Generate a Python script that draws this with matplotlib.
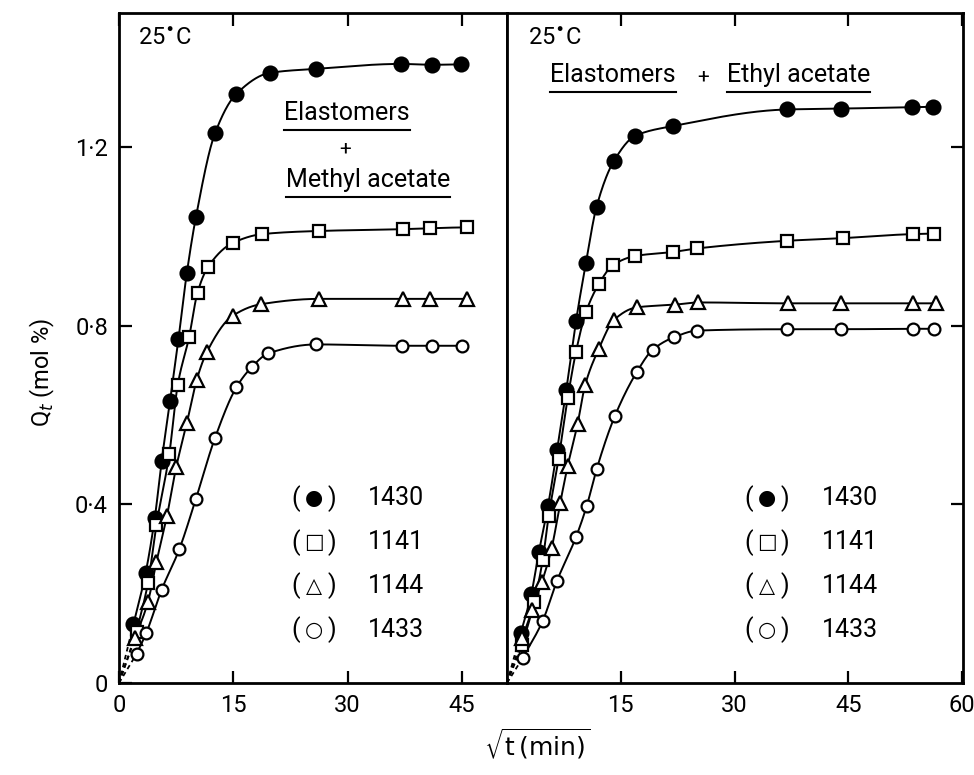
import numpy as np
import matplotlib
matplotlib.use("Agg")
import matplotlib.pyplot as plt
from matplotlib.lines import Line2D

plt.rcParams['font.family'] = ['Roboto', 'DejaVu Sans']
plt.rcParams['mathtext.fontset'] = 'dejavusans'

# ---------------- data ----------------
samples = ['1430', '1141', '1144', '1433']

# Left panel: Elastomers + Methyl acetate
ma_x_1430 = [1.9, 3.5, 4.7, 5.6, 6.7, 7.8, 8.9, 10.1, 12.6, 15.4, 19.8, 25.9, 37.0, 41.0, 44.8]
ma_y_1430 = [0.132, 0.247, 0.370, 0.498, 0.632, 0.770, 0.918, 1.044, 1.231, 1.319, 1.366, 1.375, 1.386, 1.384, 1.385]
ma_x_1141 = [2.3, 3.8, 4.9, 6.6, 7.7, 9.2, 10.3, 11.7, 14.9, 18.8, 26.2, 37.2, 40.8, 45.6]
ma_y_1141 = [0.115, 0.224, 0.353, 0.513, 0.667, 0.775, 0.874, 0.932, 0.985, 1.005, 1.012, 1.016, 1.018, 1.020]
ma_x_1144 = [2.1, 3.8, 4.9, 6.3, 7.5, 8.9, 10.2, 11.5, 14.9, 18.6, 26.3, 37.2, 40.8, 45.6]
ma_y_1144 = [0.100, 0.182, 0.270, 0.375, 0.483, 0.582, 0.679, 0.740, 0.822, 0.848, 0.860, 0.860, 0.860, 0.860]
ma_x_1433 = [2.3, 3.6, 5.6, 7.9, 10.1, 12.6, 15.4, 17.4, 19.6, 25.9, 37.1, 41.0, 45.0]
ma_y_1433 = [0.065, 0.113, 0.209, 0.299, 0.413, 0.549, 0.662, 0.707, 0.738, 0.758, 0.755, 0.755, 0.755]

# Right panel: Elastomers + Ethyl acetate
ea_x_1430 = [1.8, 3.2, 4.2, 5.4, 6.6, 7.8, 9.1, 10.4, 11.8, 14.1, 16.9, 21.9, 36.9, 44.0, 53.4, 56.2]
ea_y_1430 = [0.111, 0.199, 0.293, 0.396, 0.522, 0.655, 0.811, 0.940, 1.066, 1.169, 1.225, 1.247, 1.284, 1.286, 1.289, 1.290]
ea_x_1141 = [2.0, 3.6, 4.7, 5.5, 6.8, 8.0, 9.1, 10.4, 12.1, 14.0, 16.9, 21.9, 25.1, 36.9, 44.3, 53.5, 56.3]
ea_y_1141 = [0.085, 0.182, 0.275, 0.375, 0.502, 0.638, 0.742, 0.830, 0.893, 0.936, 0.956, 0.965, 0.973, 0.990, 0.996, 1.005, 1.006]
ea_x_1144 = [2.0, 3.3, 4.6, 5.9, 7.0, 8.0, 9.3, 10.3, 12.1, 14.1, 17.1, 22.1, 25.2, 37.0, 44.0, 53.5, 56.5]
ea_y_1144 = [0.100, 0.163, 0.226, 0.303, 0.402, 0.486, 0.580, 0.667, 0.748, 0.813, 0.841, 0.847, 0.852, 0.850, 0.850, 0.850, 0.850]
ea_x_1433 = [2.1, 4.7, 6.6, 9.1, 10.5, 11.8, 14.2, 17.1, 19.2, 22.0, 25.1, 36.9, 44.0, 53.5, 56.3]
ea_y_1433 = [0.057, 0.139, 0.229, 0.327, 0.396, 0.478, 0.597, 0.696, 0.746, 0.774, 0.789, 0.792, 0.792, 0.793, 0.793]

x_ticks_left = [0, 15, 30, 45]
x_ticks_right = [15, 30, 45, 60]
y_ticks = [0, 0.4, 0.8, 1.2]
y_tick_labels = ['0', '0\u00b74', '0\u00b78', '1\u00b72']

# marker styles per sample
marker_style = {
    '1430': dict(marker='o', mfc='black', ms=10.0),
    '1141': dict(marker='s', mfc='white', ms=8.5),
    '1144': dict(marker='^', mfc='white', ms=10.5),
    '1433': dict(marker='o', mfc='white', ms=8.5),
}
legend_symbol = {'1430': '\u25cf', '1141': '\u25a1', '1144': '\u25b3', '1433': '\u25cb'}


def pchip(x, y, xs):
    x = np.asarray(x, float); y = np.asarray(y, float)
    n = len(x)
    h = np.diff(x); d = np.diff(y) / h
    m = np.zeros(n)
    for k in range(1, n - 1):
        if d[k - 1] * d[k] <= 0:
            m[k] = 0.0
        else:
            w1 = 2 * h[k] + h[k - 1]; w2 = h[k] + 2 * h[k - 1]
            m[k] = (w1 + w2) / (w1 / d[k - 1] + w2 / d[k])
    m[0] = d[0]; m[-1] = 0.0 if abs(d[-1]) < 1e-3 else d[-1]
    idx = np.clip(np.searchsorted(x, xs) - 1, 0, n - 2)
    t = (xs - x[idx]) / h[idx]
    h00 = 2 * t**3 - 3 * t**2 + 1; h10 = t**3 - 2 * t**2 + t
    h01 = -2 * t**3 + 3 * t**2; h11 = t**3 - t**2
    return h00 * y[idx] + h10 * h[idx] * m[idx] + h01 * y[idx + 1] + h11 * h[idx] * m[idx + 1]


W, H = 974, 775
fig = plt.figure(figsize=(W / 100, H / 100), dpi=100)
bottom = 1 - 683 / H
height = (683 - 13) / H
axL = fig.add_axes([119 / W, bottom, (507 - 119) / W, height])
axR = fig.add_axes([507 / W, bottom, (963 - 507) / W, height])


def draw_series(ax, xs, ys, key):
    st = marker_style[key]
    xx = np.linspace(xs[0], xs[-1], 600)
    ax.plot(xx, pchip(xs, ys, xx), color='black', lw=1.4, zorder=2)
    ax.plot([0, xs[0]], [0, ys[0]], color='black', lw=1.3, ls=(0, (2.5, 2)), zorder=2)
    ax.plot(xs, ys, ls='none', marker=st['marker'], mfc=st['mfc'], mec='black',
            mew=1.6, ms=st['ms'], zorder=3, clip_on=False)


left_data = [(ma_x_1430, ma_y_1430), (ma_x_1141, ma_y_1141), (ma_x_1144, ma_y_1144), (ma_x_1433, ma_y_1433)]
right_data = [(ea_x_1430, ea_y_1430), (ea_x_1141, ea_y_1141), (ea_x_1144, ea_y_1144), (ea_x_1433, ea_y_1433)]
for key, (xs, ys) in zip(samples, left_data):
    draw_series(axL, xs, ys, key)
for key, (xs, ys) in zip(samples, right_data):
    draw_series(axR, xs, ys, key)

for ax in (axL, axR):
    ax.set_ylim(0, 1.5)
    for sp in ax.spines.values():
        sp.set_linewidth(2.0)
    ax.tick_params(direction='in', length=9, width=1.6, labelsize=17, pad=8)

axL.set_xlim(0, 50.9)
axR.set_xlim(0, 60.1)
axL.set_xticks(x_ticks_left)
axL.set_xticklabels([str(v) for v in x_ticks_left])
axL.tick_params(axis='x', top=True, bottom=True)
axL.set_yticks(y_ticks)
axL.set_yticklabels(y_tick_labels)
axL.tick_params(axis='y', left=True, right=False)

axR.set_xticks(x_ticks_right)
axR.set_xticklabels([str(v) for v in x_ticks_right])
axR.tick_params(axis='x', top=True, bottom=True)
axR.set_yticks(y_ticks[1:])
axR.tick_params(axis='y', left=False, right=True, labelleft=False, labelright=False)

fs = 18
# temperature labels
axL.text(0.05, 0.962, '25$^{\\bullet}$C', transform=axL.transAxes, fontsize=17, va='center', ha='left')
axR.text(0.045, 0.962, '25$^{\\bullet}$C', transform=axR.transAxes, fontsize=17, va='center', ha='left')

# system labels
underlined = []
underlined.append(axL.text((347 - 119) / 388, (683 - 113) / 670, 'Elastomers', transform=axL.transAxes,
                           fontsize=fs, ha='center', va='center'))
axL.text((345 - 119) / 388, (683 - 149) / 670, '+', transform=axL.transAxes, fontsize=fs - 3,
         ha='center', va='center')
underlined.append(axL.text((368 - 119) / 388, (683 - 180) / 670, 'Methyl acetate', transform=axL.transAxes,
                           fontsize=fs, ha='center', va='center'))
underlined.append(axR.text((550 - 507) / 456, (683 - 75) / 670, 'Elastomers', transform=axR.transAxes,
                           fontsize=fs, ha='left', va='center'))
axR.text((703 - 507) / 456, (683 - 77) / 670, '+', transform=axR.transAxes, fontsize=fs - 3,
         ha='center', va='center')
underlined.append(axR.text((727 - 507) / 456, (683 - 75) / 670, 'Ethyl acetate', transform=axR.transAxes,
                           fontsize=fs, ha='left', va='center'))

# sample legends
legend_rows = [0.276, 0.210, 0.145, 0.079]
for ax, w0, xs_c, xn in ((axL, 388, 314 - 119, 368 - 119), (axR, 456, 767 - 507, 822 - 507)):
    for key, yr in zip(samples, legend_rows):
        ax.text((xs_c - 18) / w0, yr, '(', transform=ax.transAxes, fontsize=fs, ha='center', va='center')
        ax.text((xs_c + 18) / w0, yr, ')', transform=ax.transAxes, fontsize=fs, ha='center', va='center')
        ax.text(xs_c / w0, yr, legend_symbol[key], transform=ax.transAxes,
                fontsize=15, ha='center', va='center', family=['DejaVu Sans'])
        ax.text(xn / w0, yr, key, transform=ax.transAxes, fontsize=fs, ha='left', va='center')

# axis labels
fig.text(42 / W, 1 - 372 / H, 'Q$_t$ (mol %)', rotation=90, fontsize=17, ha='center', va='center')
fig.text(537 / W, 1 - 744 / H, r'$\sqrt{\mathrm{t\,(min)}}$', fontsize=18, ha='center', va='center')

# underline the system labels
fig.canvas.draw()
renderer = fig.canvas.get_renderer()
for t in underlined:
    bb = t.get_window_extent(renderer)
    yline = bb.y0 - 5
    fig.add_artist(Line2D([bb.x0 / W, bb.x1 / W], [yline / H, yline / H], color='black', lw=1.5))

fig.savefig('out.png', dpi=100)
